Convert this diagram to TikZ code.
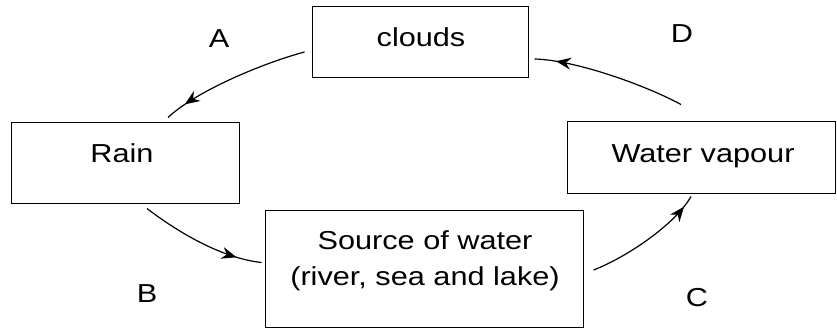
\documentclass[tikz,border=0pt]{standalone}
\usepackage{fontspec}
\setmainfont{Liberation Sans}[FakeStretch=1.18]
\usetikzlibrary{calc,arrows.meta,decorations.markings}
\tikzset{
  box/.style={draw=black, line width=1pt, inner sep=0pt, fill=white},
  txt/.style={inner sep=0pt, anchor=base, font=\fontsize{26}{36}\selectfont},
  flow/.style={line width=1.2pt, postaction={decorate},
    decoration={markings, mark=at position #1 with {\arrow{Stealth[length=15pt,width=12pt,inset=5pt]}}}},
  flow/.default=0.88
}
\begin{document}
\begin{tikzpicture}[x=1pt,y=-1pt]
\useasboundingbox (0,0) rectangle (837,329);
% boxes
\node[box, minimum width=216pt, minimum height=70pt] (clouds) at (420,42) {};
\node[box, minimum width=228pt, minimum height=81pt] (rain) at (125,162.5) {};
\node[box, minimum width=318pt, minimum height=117pt] (src) at (424,268.5) {};
\node[box, minimum width=268pt, minimum height=72pt] (wv) at (701,157) {};
% texts
\node[txt] (cloudsT) at (421,47) {clouds};
\node[txt] (rainT) at (122,162) {Rain};
\node[txt] (srcT1) at (425,249) {Source of water};
\node[txt] (srcT2) at (425,285) {(river, sea and lake)};
\node[txt] (wvT) at (703,162) {Water vapour};
% labels
\node[txt] (labA) at (219,48) {A};
\node[txt] (labB) at (147,302) {B};
\node[txt] (labC) at (697,306) {C};
\node[txt] (labD) at (682,43) {D};
% connectors
\draw[flow=0.86] ($(clouds.west)+(-7,10)$) .. controls (260,64) and (195,92) .. ($(rain.north)+(43,-4)$);
\draw[flow=0.8] ($(rain.south)+(22,5)$) .. controls (175,230) and (220,258) .. ($(src.west)+(-3,-6)$);
\draw[flow=0.9] ($(src.east)+(10,1.5)$) .. controls (625,258) and (675,225) .. ($(wv.south)+(-10,3)$);
\draw[flow=0.86] ($(wv.north)+(-20,-16)$) .. controls (645,85) and (575,60) .. ($(clouds.east)+(6,17)$);
\end{tikzpicture}
\end{document}
